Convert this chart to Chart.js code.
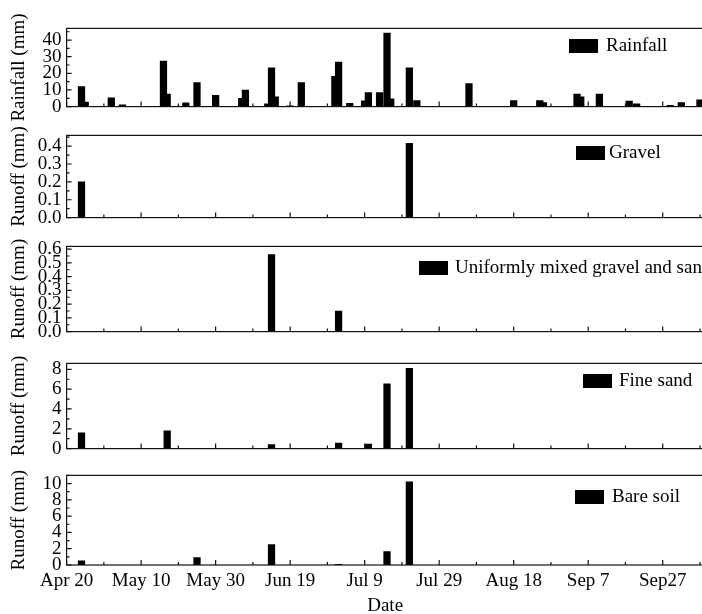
<!DOCTYPE html>
<html lang="en">
<head>
<meta charset="UTF-8">
<title>Rainfall and runoff</title>
<script src="https://cdn.jsdelivr.net/npm/chart.js"></script>
<style>
  body { margin: 0; padding: 0; background: #fff; }
  #wrap { position: relative; width: 702px; height: 614px; overflow: hidden; }
  #wrap canvas { position: absolute; left: 0; }
</style>
</head>
<body>
<div id="wrap">
  <canvas id="c1"></canvas>
  <canvas id="c2"></canvas>
  <canvas id="c3"></canvas>
  <canvas id="c4"></canvas>
  <canvas id="c5"></canvas>
</div>
<script>
// x tick labels (every 20 days from Apr 20)
const tickLabels = ['Apr 20', 'May 10', 'May 30', 'Jun 19', 'Jul 9', 'Jul 29', 'Aug 18', 'Sep 7', 'Sep27'];

// daily rainfall (mm)
const rainDates = ['04-24','04-25','05-02','05-05','05-16','05-17','05-22','05-25','05-30','06-06',
  '06-07','06-13','06-14','06-15','06-19','06-22','07-01','07-02','07-05','07-09',
  '07-10','07-13','07-15','07-16','07-21','07-23','08-06','08-18','08-25','08-26',
  '09-04','09-05','09-10','09-18','09-20','09-29','10-02','10-07'];
const rainValues = [12.0, 2.7, 5.3, 1.1, 27.3, 7.5, 2.2, 14.4, 6.7, 4.9,
  10.0, 1.6, 23.3, 5.8, 0.5, 14.4, 18.2, 26.7, 2.0, 3.5,
  8.5, 8.5, 44.2, 4.7, 23.3, 3.6, 13.8, 3.6, 3.6, 2.4,
  7.5, 5.8, 7.5, 3.3, 1.6, 0.7, 2.4, 4.0];

// runoff (mm)
const gravelDates = ['04-24', '07-21'];
const gravelValues = [0.2, 0.415];

const mixedDates = ['06-14', '07-02'];
const mixedValues = [0.56, 0.15];

const sandDates = ['04-24', '05-17', '06-14', '07-02', '07-10', '07-15', '07-21'];
const sandValues = [1.6, 1.8, 0.4, 0.55, 0.45, 6.55, 8.1];

const bareDates = ['04-24', '05-25', '06-14', '07-02', '07-15', '07-21'];
const bareValues = [0.5, 0.9, 2.5, 0.08, 1.65, 10.2];

const FONT = "'Liberation Serif', 'Times New Roman', serif";
const SIZE = 19;
const start = Date.UTC(2000, 3, 20);
const xMax = 171; // Oct 8

function toDay(s) {
  const [m, d] = s.split('-').map(Number);
  return Math.round((Date.UTC(2000, m - 1, d) - start) / 86400000);
}
function points(dates, values) {
  return dates.map((d, i) => ({ x: toDay(d), y: values[i] }));
}

// frame, inward tick marks and the little legend box
const frame = {
  id: 'frame',
  afterDraw(chart, args, o) {
    const { ctx, chartArea: a, scales: { x, y } } = chart;
    ctx.save();
    ctx.strokeStyle = '#111';
    ctx.lineWidth = 1.2;
    ctx.strokeRect(a.left, a.top, a.right - a.left, a.bottom - a.top);
    ctx.beginPath();
    for (let v = 0; v <= x.max; v += 10) {
      const px = x.getPixelForValue(v);
      const len = v % 20 === 0 ? 5 : 3;
      ctx.moveTo(px, a.bottom);
      ctx.lineTo(px, a.bottom - len);
    }
    for (let i = 0; i * o.step <= y.max + 1e-9; i++) {
      const py = y.getPixelForValue(i * o.step);
      const len = i % 2 === 0 ? 5 : 3;
      ctx.moveTo(a.left, py);
      ctx.lineTo(a.left + len, py);
    }
    ctx.stroke();
    ctx.fillStyle = '#000';
    ctx.fillRect(o.lx, o.ly, 29, 14);
    ctx.font = SIZE + 'px ' + FONT;
    ctx.textBaseline = 'middle';
    ctx.fillText(o.text, o.tx, o.ly + 7.5);
    ctx.restore();
  }
};

function panel(id, top, height, bottomH, data, yMax, step, dec, yTitle, legend, last) {
  const el = document.getElementById(id);
  el.width = 712;
  el.height = height;
  el.style.top = top + 'px';
  new Chart(el, {
    type: 'bar',
    data: { datasets: [{ data: data, backgroundColor: '#000', barThickness: 6.6 }] },
    options: {
      responsive: false,
      animation: false,
      layout: { padding: { top: 12, right: 8.3, left: 0, bottom: 0 } },
      plugins: {
        legend: { display: false },
        tooltip: { enabled: false },
        frame: Object.assign({ step: step }, legend)
      },
      scales: {
        x: {
          type: 'linear',
          min: 0, max: xMax,
          offset: false,
          grid: { display: false, drawTicks: false, offset: false },
          border: { display: false },
          ticks: {
            display: last,
            stepSize: 10,
            autoSkip: false,
            maxRotation: 0,
            padding: 5,
            color: '#000',
            font: { family: FONT, size: SIZE },
            callback: v => (v % 20 === 0 && v / 20 < tickLabels.length) ? tickLabels[v / 20] : ''
          },
          title: {
            display: last, text: 'Date', color: '#000',
            font: { family: FONT, size: SIZE }, padding: { bottom: 0, top: 0 }
          },
          afterFit: s => { s.height = bottomH; }
        },
        y: {
          min: 0, max: yMax,
          grid: { display: false, drawTicks: false },
          border: { display: false },
          ticks: {
            stepSize: step,
            includeBounds: false,
            autoSkip: false,
            padding: 5,
            color: '#000',
            font: { family: FONT, size: SIZE },
            callback: (v, i) => i % 2 === 0 ? v.toFixed(dec) : ''
          },
          title: {
            display: true, text: yTitle, color: '#000',
            font: { family: FONT, size: SIZE }, padding: { top: 8, bottom: 0 }
          },
          afterFit: s => { s.width = 66.6; }
        }
      }
    },
    plugins: [frame]
  });
}

panel('c1', 12, 111, 12, points(rainDates, rainValues), 47, 5, 0, 'Rainfall (mm)',
  { text: 'Rainfall', lx: 569, ly: 27, tx: 606 }, false);
panel('c2', 119, 115, 12, points(gravelDates, gravelValues), 0.46, 0.05, 1, 'Runoff (mm)',
  { text: 'Gravel', lx: 576, ly: 27, tx: 609 }, false);
panel('c3', 230, 118, 12, points(mixedDates, mixedValues), 0.62, 0.05, 1, 'Runoff (mm)',
  { text: 'Uniformly mixed gravel and sand', lx: 419, ly: 31, tx: 455 }, false);
panel('c4', 347, 118, 12, points(sandDates, sandValues), 8.6, 1, 0, 'Runoff (mm)',
  { text: 'Fine sand', lx: 583, ly: 27, tx: 619 }, false);
panel('c5', 459, 158, 52, points(bareDates, bareValues), 11, 1, 0, 'Runoff (mm)',
  { text: 'Bare soil', lx: 575, ly: 31, tx: 612 }, true);
</script>
</body>
</html>
